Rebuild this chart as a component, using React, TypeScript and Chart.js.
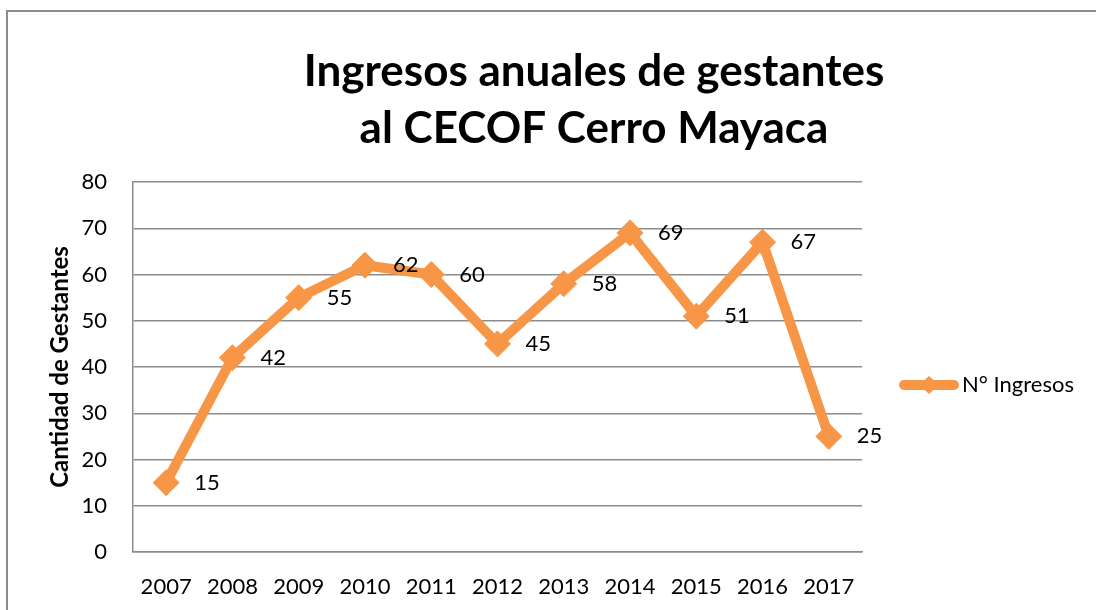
import React, { useEffect, useRef } from 'react';
import { Chart, registerables } from 'chart.js';

Chart.register(...registerables);

// ---- data ----
const years = ['2007', '2008', '2009', '2010', '2011', '2012', '2013', '2014', '2015', '2016', '2017'];
const ingresos = [15, 42, 55, 62, 60, 45, 58, 69, 51, 67, 25];
const seriesLabel = 'N° Ingresos';
const titleLines = ['Ingresos anuales de gestantes', 'al CECOF Cerro Mayaca'];
const yAxisTitle = 'Cantidad de Gestantes';
const yMin = 0;
const yMax = 80;
const yStep = 10;

// ---- styles ----
const ORANGE = '#F79646';
const GRID = '#8c8c8c';
const FAMILY = "Lato, 'Open Sans', sans-serif";
const LABEL_SIZE = 22;
const PLOT_RIGHT = 862;
const LEGEND_PAD = 45;
const LEGEND_BOX = 44;

const shiftBoxes = {
  id: 'shiftBoxes',
  afterLayout(chart: any) {
    const t = chart.titleBlock;
    if (t) {
      const c = (t.left + t.right) / 2;
      const d = 594 - c;
      t.left += d;
      t.right += d;
    }
    const l = chart.legend;
    if (l) {
      l.top += 18;
      l.bottom += 18;
    }
  },
};

const dataLabels = {
  id: 'dataLabels',
  afterDatasetsDraw(chart: any) {
    const ctx = chart.ctx;
    const meta = chart.getDatasetMeta(0);
    const values = chart.data.datasets[0].data;
    ctx.save();
    ctx.font = `${LABEL_SIZE}px ${FAMILY}`;
    ctx.fillStyle = '#000';
    ctx.textAlign = 'left';
    ctx.textBaseline = 'middle';
    meta.data.forEach((pt: any, i: number) => {
      ctx.fillText(String(values[i]), pt.x + 28, pt.y);
    });
    ctx.restore();
  },
};

export default function App() {
  const ref = useRef<HTMLCanvasElement>(null);

  useEffect(() => {
    let chart: Chart | null = null;
    let cancelled = false;

    const build = () => {
      if (cancelled || !ref.current) return;
      const icon = document.createElement('canvas');
      icon.width = 60;
      icon.height = 22;
      const g = icon.getContext('2d')!;
      g.strokeStyle = ORANGE;
      g.lineWidth = 10;
      g.lineCap = 'round';
      g.beginPath();
      g.moveTo(5, 11);
      g.lineTo(55, 11);
      g.stroke();
      g.fillStyle = ORANGE;
      g.beginPath();
      g.moveTo(20, 11);
      g.lineTo(30, 2);
      g.lineTo(40, 11);
      g.lineTo(30, 20);
      g.closePath();
      g.fill();

      // measure legend text to keep the plot's right edge fixed
      const mctx = document.createElement('canvas').getContext('2d')!;
      mctx.font = `${LABEL_SIZE}px ${FAMILY}`;
      const textW = mctx.measureText(seriesLabel).width;
      const legendW = LEGEND_PAD + LEGEND_BOX + LABEL_SIZE / 2 + textW + 10;
      const rightPad = Math.max(0, 1096 - PLOT_RIGHT - legendW);

      chart = new Chart(ref.current, {
        type: 'line',
        data: {
          labels: years,
          datasets: [
            {
              label: seriesLabel,
              data: ingresos,
              borderColor: ORANGE,
              backgroundColor: ORANGE,
              borderWidth: 10,
              borderJoinStyle: 'round',
              borderCapStyle: 'round',
              tension: 0,
              pointStyle: 'rectRot',
              pointRadius: 13,
              pointBorderWidth: 1,
              pointBackgroundColor: ORANGE,
              pointBorderColor: ORANGE,
            },
          ],
        },
        options: {
          responsive: false,
          animation: false,
          layout: { padding: { left: 46, right: rightPad, top: 0, bottom: 0 } },
          plugins: {
            title: {
              display: true,
              text: titleLines,
              color: '#000',
              font: { family: FAMILY, size: 44, weight: 'bold', lineHeight: '57px' } as any,
              padding: { top: 43, bottom: 25 },
            },
            legend: {
              position: 'right',
              fullSize: false,
              labels: {
                usePointStyle: true,
                pointStyleWidth: LEGEND_BOX,
                padding: LEGEND_PAD,
                color: '#000',
                font: { family: FAMILY, size: LABEL_SIZE },
                generateLabels: (c: any) =>
                  (Chart.defaults.plugins.legend.labels.generateLabels as any)(c).map((it: any) => ({
                    ...it,
                    pointStyle: icon,
                    fontColor: '#000',
                  })),
              },
            },
            tooltip: { enabled: false },
          },
          scales: {
            x: {
              offset: true,
              grid: { display: false, drawTicks: false },
              border: { display: true, color: GRID, width: 1.5 },
              ticks: { color: '#000', font: { family: FAMILY, size: LABEL_SIZE }, padding: 22, maxRotation: 0, autoSkip: false },
              afterFit: (s: any) => {
                s.height = 58;
              },
            },
            y: {
              min: yMin,
              max: yMax,
              ticks: { stepSize: yStep, color: '#000', font: { family: FAMILY, size: LABEL_SIZE }, padding: 26 },
              grid: { color: GRID, lineWidth: 1.5, drawTicks: false },
              border: { display: true, color: GRID, width: 1.5 },
              title: {
                display: true,
                text: yAxisTitle,
                color: '#000',
                font: { family: FAMILY, size: 24, weight: 'bold' },
                padding: 0,
              },
              afterFit: (s: any) => {
                s.width = 87;
              },
            },
          },
        },
        plugins: [shiftBoxes, dataLabels],
      } as any);
    };

    Promise.all([
      document.fonts.load(`22px Lato`),
      document.fonts.load(`bold 24px Lato`),
      document.fonts.load(`bold 44px Lato`),
    ]).then(build, build);

    return () => {
      cancelled = true;
      if (chart) chart.destroy();
    };
  }, []);

  return (
    <div style={{ position: 'fixed', left: 0, top: 0, width: 1096, height: 610, overflow: 'hidden', background: '#fff' }}>
      <div
        style={{
          position: 'absolute',
          left: 6,
          top: 10,
          width: 1300,
          height: 800,
          borderTop: '2px solid #8c8c8c',
          borderLeft: '2px solid #8c8c8c',
        }}
      />
      <canvas ref={ref} width={1096} height={610} style={{ position: 'absolute', left: 0, top: 0, width: 1096, height: 610 }} />
    </div>
  );
}
